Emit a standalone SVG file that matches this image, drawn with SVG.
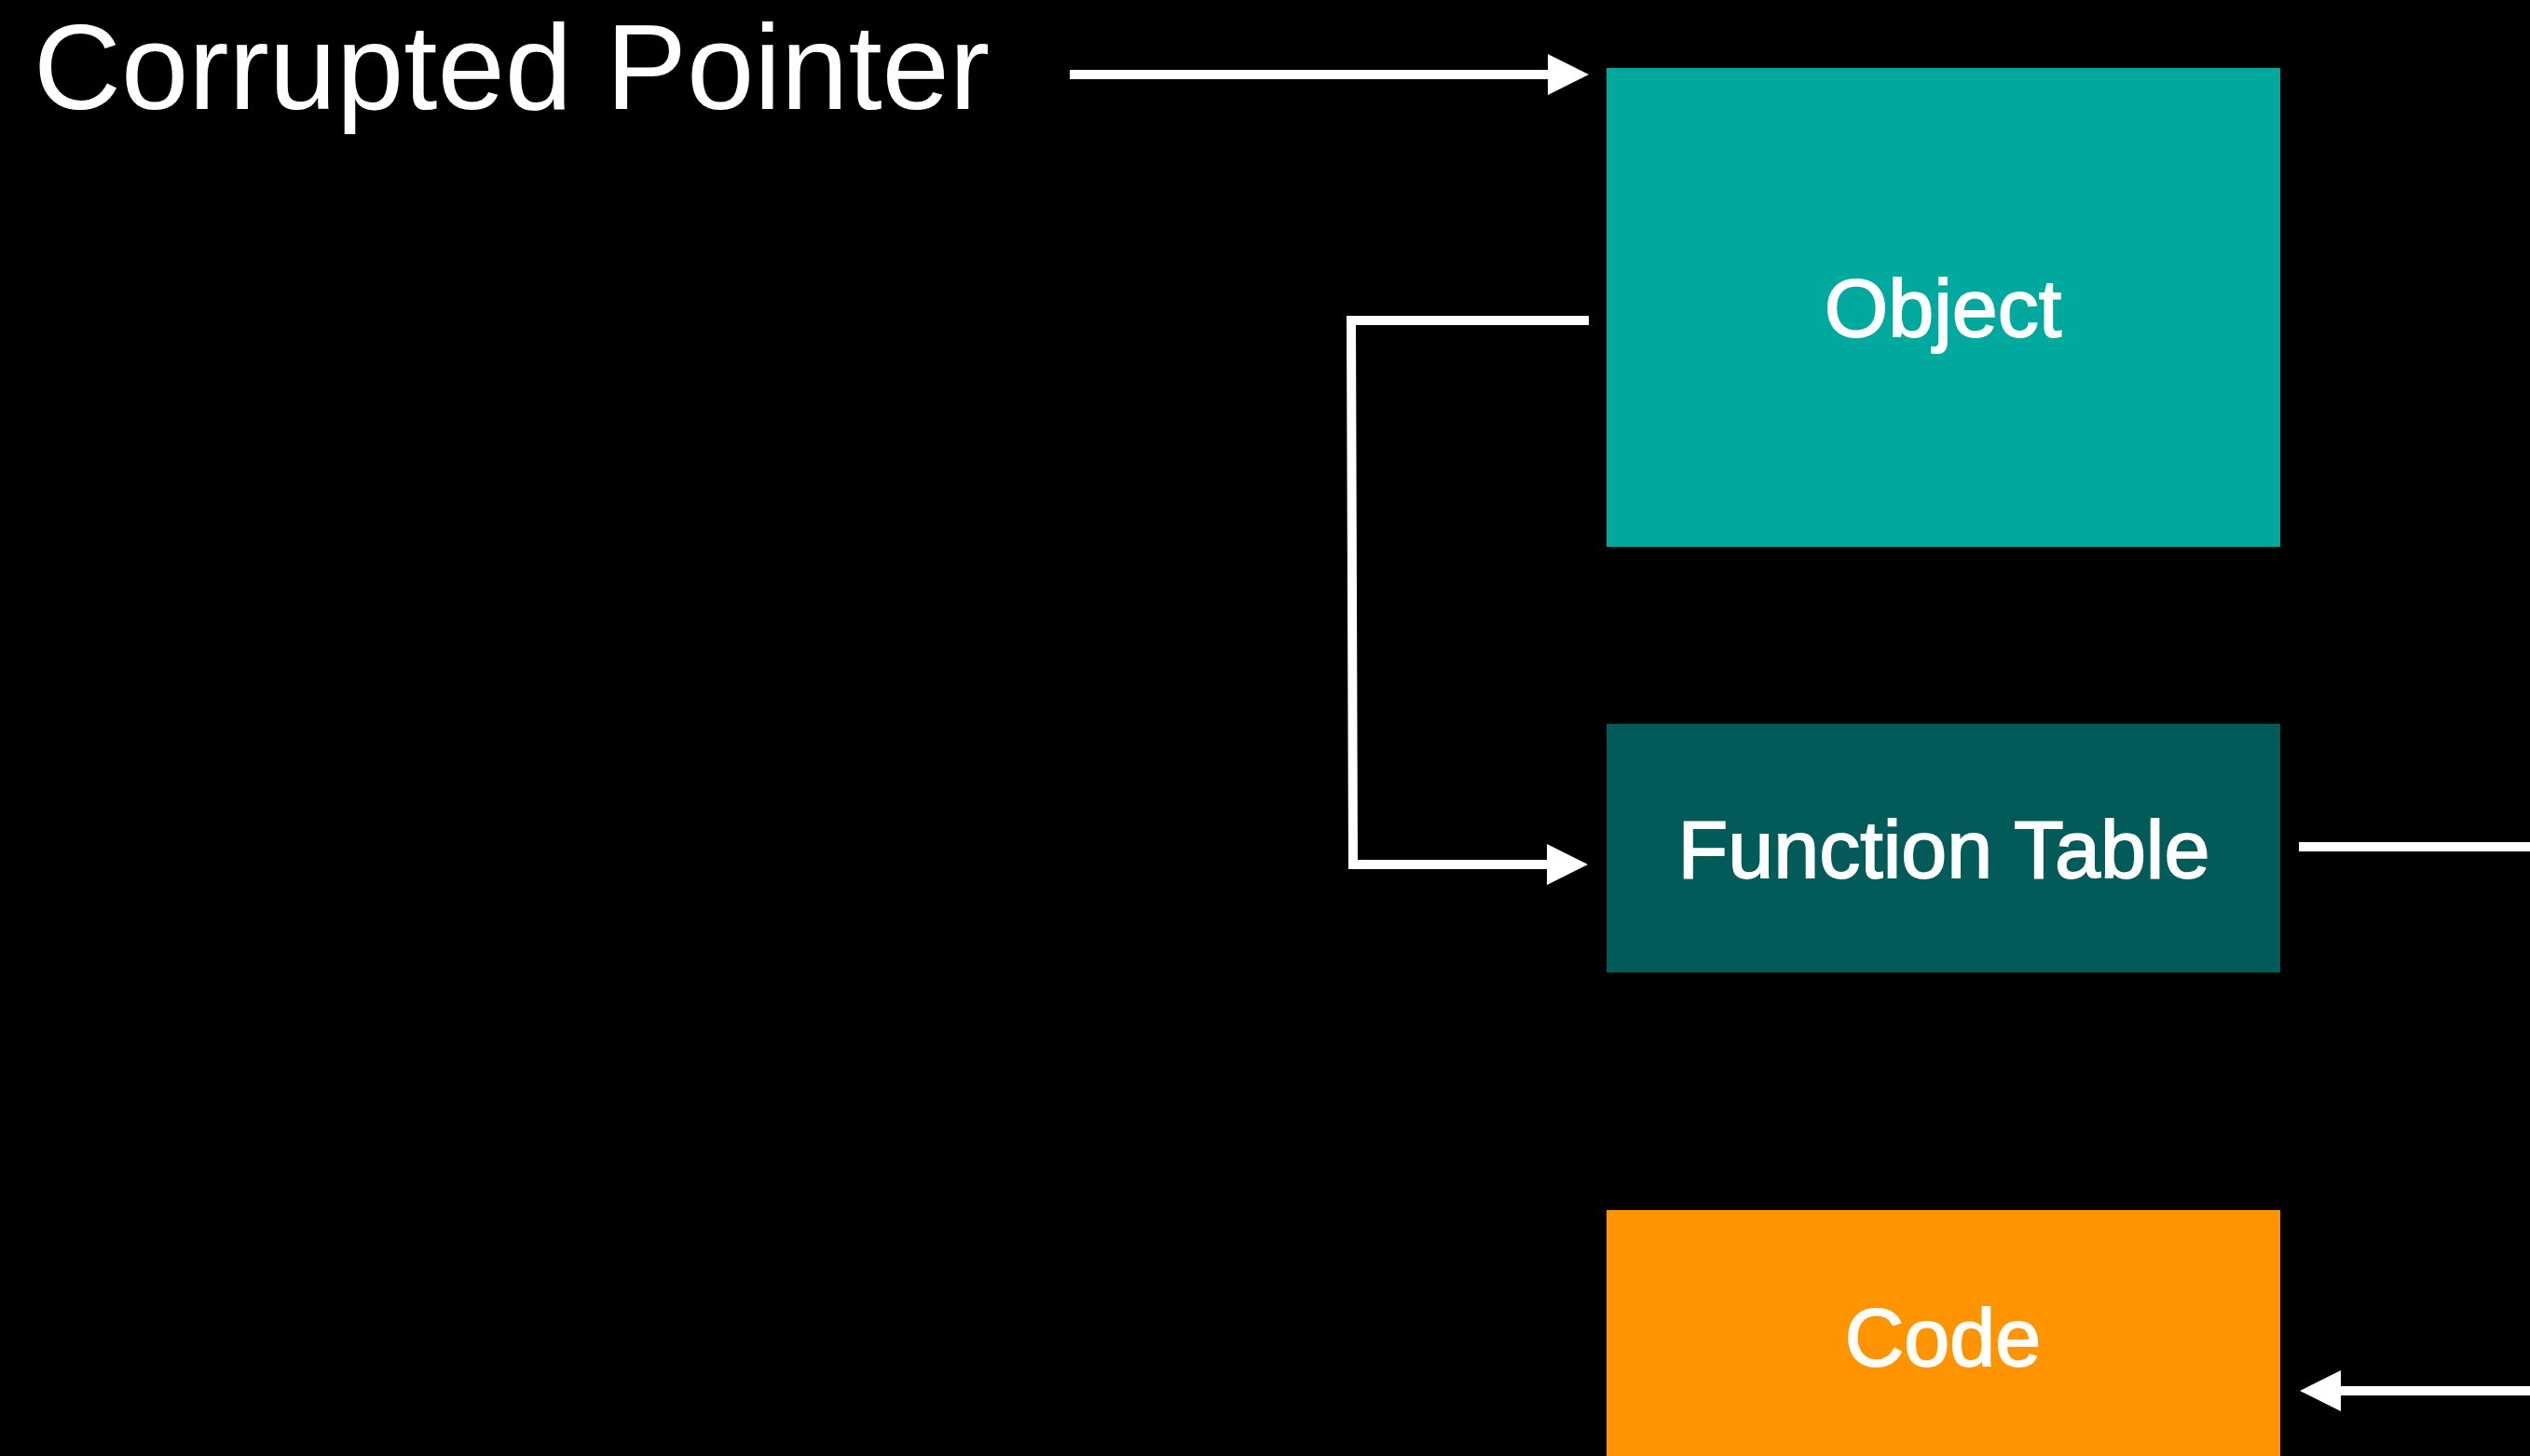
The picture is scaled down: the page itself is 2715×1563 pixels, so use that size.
<svg xmlns="http://www.w3.org/2000/svg" width="2715" height="1563" viewBox="0 0 2715 1563">
  <style>
    .lbl { font-family: "Liberation Sans", Arial, sans-serif; fill: #ffffff; stroke: #ffffff; stroke-width: 1.8; text-anchor: middle; font-size: 88px; }
    .title { font-family: "Liberation Sans", Arial, sans-serif; fill: #ffffff; font-size: 130px; }
    .conn { fill: none; stroke: #ffffff; stroke-width: 10; stroke-linejoin: miter; stroke-linecap: butt; }
  </style>
  <defs>
    <marker id="ah" markerUnits="userSpaceOnUse" viewBox="0 -22 44 44" refX="0" refY="0" markerWidth="44" markerHeight="44" orient="auto">
      <path d="M0,-22 L44,0 L0,22 z" fill="#ffffff"/>
    </marker>
  </defs>
  <rect x="0" y="0" width="2715" height="1563" fill="#000000"/>

  <text id="title" class="title" x="36" y="117">Corrupted Pointer</text>

  <g id="node-object">
    <rect x="1724" y="73" width="723" height="514" fill="#00A89E"/>
    <text class="lbl" x="2085" y="361">Object</text>
  </g>
  <g id="node-function-table">
    <rect x="1724" y="777" width="723" height="267" fill="#025A59"/>
    <text class="lbl" x="2086" y="942">Function Table</text>
  </g>
  <g id="node-code">
    <rect x="1724" y="1299" width="723" height="280" fill="#FE9500"/>
    <text class="lbl" x="2085" y="1466">Code</text>
  </g>

  <g id="connectors">
    <path class="conn" d="M1148,80 L1661,80" marker-end="url(#ah)"/>
    <path class="conn" d="M1705,344 L1450,344 L1452,928 L1660,928" marker-end="url(#ah)"/>
    <path class="conn" d="M2467,909 L2715,909"/>
    <path class="conn" d="M2715,1493 L2512,1493" marker-end="url(#ah)"/>
  </g>
</svg>
